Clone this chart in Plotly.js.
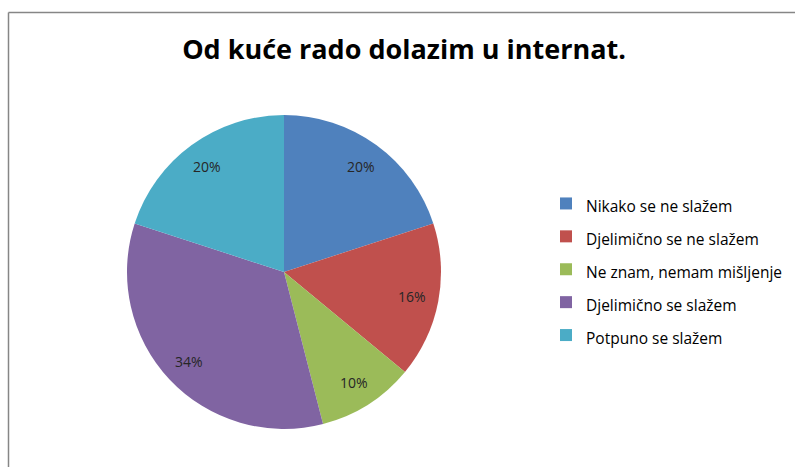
<!DOCTYPE html>
<html>
<head>
<meta charset="utf-8">
<script src="https://cdn.plot.ly/plotly-3.0.1.min.js"></script>
<style>html,body{margin:0;padding:0;background:#fff;}#chart{width:795px;height:467px;}</style>
</head>
<body>
<div id="chart"></div>
<script>
const categories = ["Nikako se ne slažem", "Djelimično se ne slažem", "Ne znam, nemam mišljenje", "Djelimično se slažem", "Potpuno se slažem"];
const values = [20, 16, 10, 34, 20];
const colors = ["#4F81BD", "#C0504D", "#9BBB59", "#8064A2", "#4BACC6"];
const chartTitle = "Od kuće rado dolazim u internat.";

const W = 795, H = 467;
const cx = 284, cy = 272, R = 157;
const labelR = 0.83 * R;

const total = values.reduce((a, b) => a + b, 0);
let cum = 0;
const labelAnnotations = values.map(v => {
  const mid = (cum + v / 2) / total * 2 * Math.PI;
  cum += v;
  const px = cx + labelR * Math.sin(mid);
  const py = cy - labelR * Math.cos(mid);
  return {
    xref: "paper", yref: "paper",
    x: px / W, y: 1 - py / H,
    xanchor: "center", yanchor: "middle",
    text: Math.round(v / total * 100) + "%",
    showarrow: false,
    font: { family: "Open Sans, sans-serif", size: 14, color: "#262626" }
  };
});

const trace = {
  type: "pie",
  labels: categories.map(c => "<span style='font-size:15.5px'>" + c + "</span>"),
  values: values,
  sort: false,
  direction: "clockwise",
  rotation: 0,
  marker: { colors: colors, line: { width: 0 } },
  textinfo: "none",
  hoverinfo: "label+percent",
  domain: { x: [(cx - R) / W, (cx + R) / W], y: [(H - cy - R) / H, (H - cy + R) / H] }
};

const layout = {
  width: W, height: H,
  margin: { l: 0, r: 0, t: 0, b: 0 },
  paper_bgcolor: "#ffffff",
  showlegend: true,
  title: {
    text: "<b>" + chartTitle + "</b>",
    font: { family: "Open Sans, sans-serif", size: 27, color: "#000000" },
    x: 404 / W, xanchor: "center",
    y: 1 - 50 / H, yanchor: "middle", yref: "container"
  },
  legend: {
    x: 546 / W, xanchor: "left",
    y: 1 - 182 / H, yanchor: "top",
    font: { family: "Open Sans, sans-serif", size: 23, color: "#000000" },
    bgcolor: "rgba(0,0,0,0)"
  },
  annotations: labelAnnotations,
  shapes: [
    { type: "line", xref: "paper", yref: "paper", x0: 8.5 / W, x1: 8.5 / W, y0: -0.05, y1: 1 - 12.5 / H, line: { color: "#868686", width: 1.5 } },
    { type: "line", xref: "paper", yref: "paper", x0: 8.5 / W, x1: 1.05, y0: 1 - 12.5 / H, y1: 1 - 12.5 / H, line: { color: "#868686", width: 1.5 } }
  ]
};

Plotly.newPlot("chart", [trace], layout, { displayModeBar: false, staticPlot: true });
</script>
</body>
</html>
